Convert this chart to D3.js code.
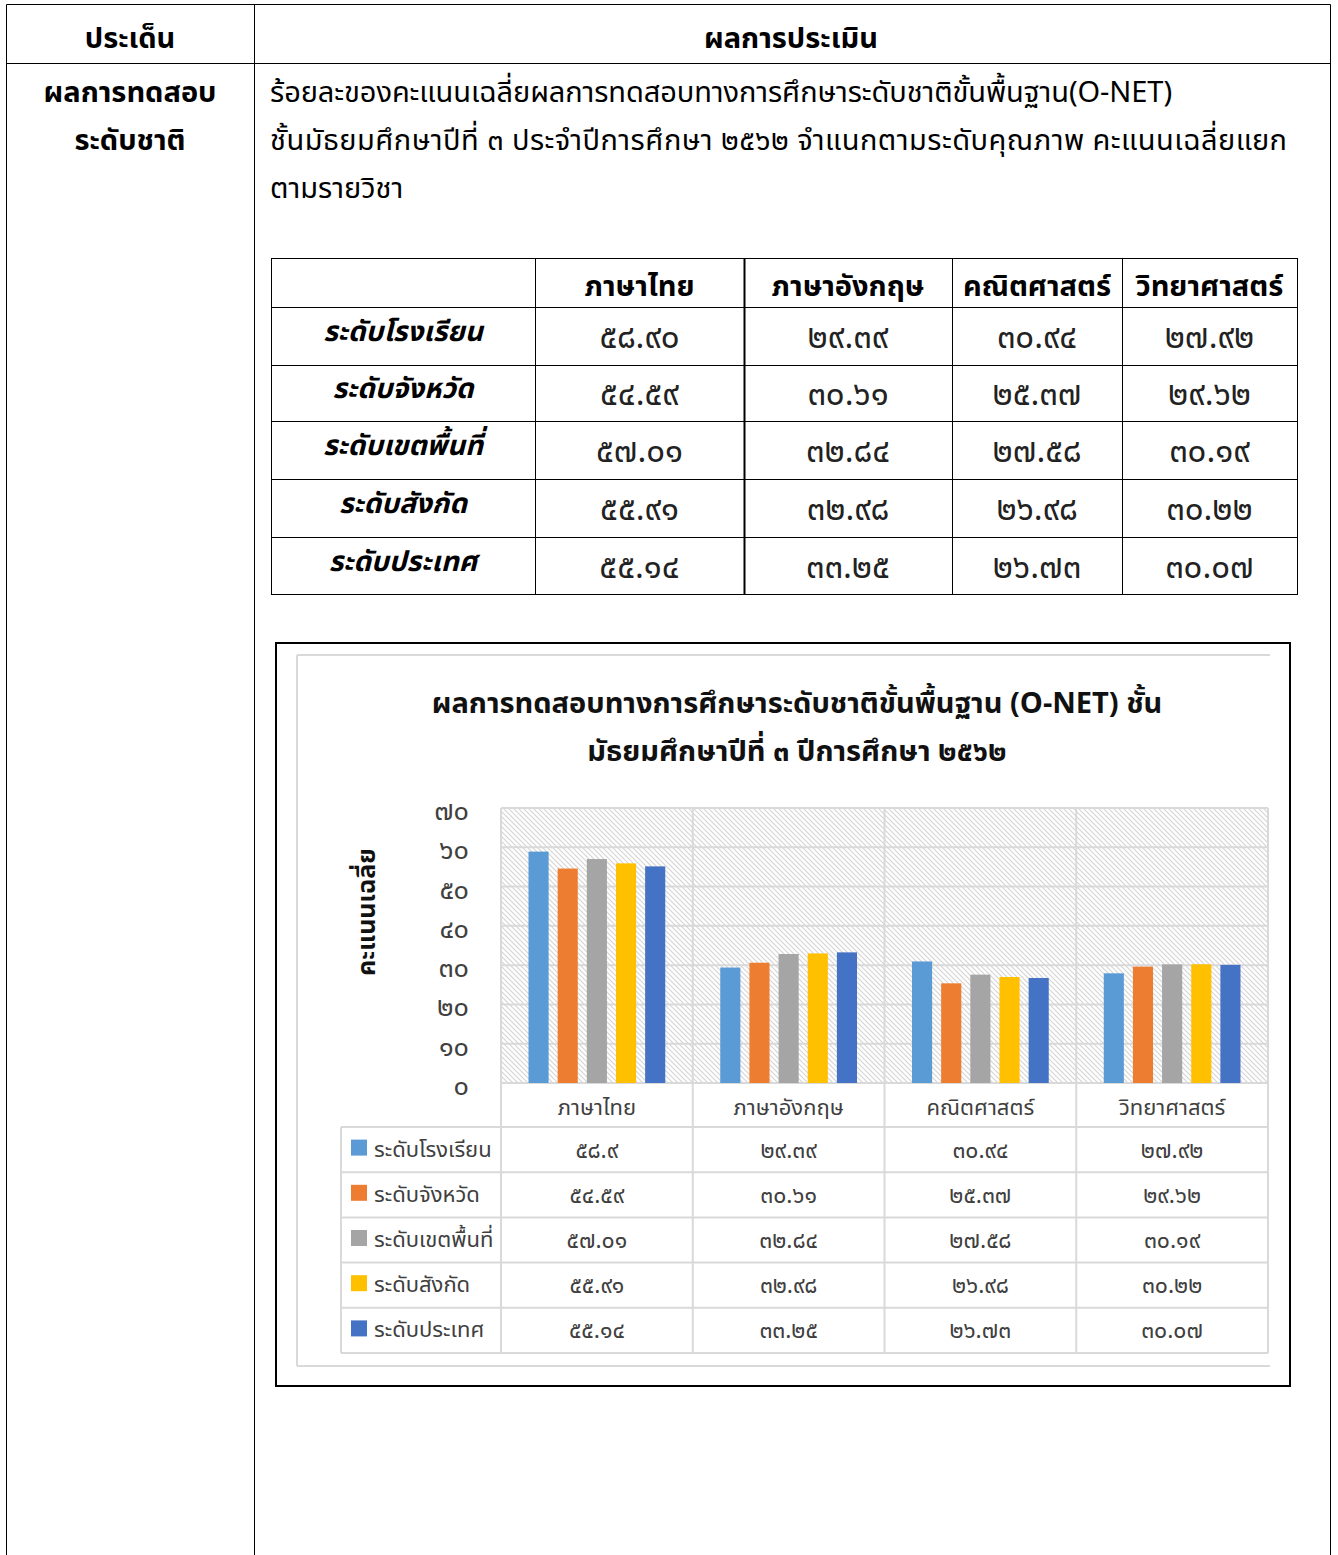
<!DOCTYPE html>
<html>
<head>
<meta charset="utf-8">
<script src="https://cdn.jsdelivr.net/npm/d3@7"></script>
<style>
  html, body { margin: 0; padding: 0; background: #fff; }
  svg { display: block; }
  text { font-family: "Noto Sans Thai", "Noto Sans", "Open Sans", sans-serif; }
</style>
</head>
<body>
<svg id="page" width="1338" height="1555"></svg>
<script>
// ---------- DATA ----------
const categories = ["ภาษาไทย", "ภาษาอังกฤษ", "คณิตศาสตร์", "วิทยาศาสตร์"];
const seriesNames = ["ระดับโรงเรียน", "ระดับจังหวัด", "ระดับเขตพื้นที่", "ระดับสังกัด", "ระดับประเทศ"];
const schoolValues      = [58.90, 29.39, 30.94, 27.92];
const provinceValues    = [54.59, 30.61, 25.37, 29.62];
const areaValues        = [57.01, 32.84, 27.58, 30.19];
const affiliationValues = [55.91, 32.98, 26.98, 30.22];
const countryValues     = [55.14, 33.25, 26.73, 30.07];
const seriesValues = [schoolValues, provinceValues, areaValues, affiliationValues, countryValues];
const seriesColors = ["#5B9BD5", "#ED7D31", "#A5A5A5", "#FFC000", "#4472C4"];
const yTicks = [0, 10, 20, 30, 40, 50, 60, 70];
const yTickLabels = ["๐", "๑๐", "๒๐", "๓๐", "๔๐", "๕๐", "๖๐", "๗๐"];

const headerLeft = "ประเด็น";
const headerRight = "ผลการประเมิน";
const leftLabelLines = ["ผลการทดสอบ", "ระดับชาติ"];
const paragraphLines = [
  "ร้อยละของคะแนนเฉลี่ยผลการทดสอบทางการศึกษาระดับชาติขั้นพื้นฐาน(O-NET)",
  "ชั้นมัธยมศึกษาปีที่ ๓ ประจำปีการศึกษา ๒๕๖๒ จำแนกตามระดับคุณภาพ คะแนนเฉลี่ยแยก",
  "ตามรายวิชา"
];
const paragraphWidths = [902, 1017, null];
const chartTitleLines = [
  "ผลการทดสอบทางการศึกษาระดับชาติขั้นพื้นฐาน  (O-NET) ชั้น",
  "มัธยมศึกษาปีที่ ๓ ปีการศึกษา ๒๕๖๒"
];
const yAxisTitle = "คะแนนเฉลี่ย";

// ---------- helpers ----------
const thaiDigits = "๐๑๒๓๔๕๖๗๘๙";
const toThai = s => String(s).replace(/[0-9]/g, d => thaiDigits[+d]);
const fmt2 = v => toThai(v.toFixed(2));
const fmtTrim = v => toThai(String(+v.toFixed(2)));

const svg = d3.select("#page");

// ---------- outer document table ----------
const outer = svg.append("g").attr("stroke", "#000").attr("stroke-width", 1);
outer.append("line").attr("x1", 6.5).attr("y1", 4.5).attr("x2", 1330.5).attr("y2", 4.5);
outer.append("line").attr("x1", 6.5).attr("y1", 63.5).attr("x2", 1330.5).attr("y2", 63.5);
outer.append("line").attr("x1", 6.5).attr("y1", 4.5).attr("x2", 6.5).attr("y2", 1560);
outer.append("line").attr("x1", 254.5).attr("y1", 4.5).attr("x2", 254.5).attr("y2", 1560);
outer.append("line").attr("x1", 1330.5).attr("y1", 4.5).attr("x2", 1330.5).attr("y2", 1560);

svg.append("text").attr("x", 130).attr("y", 48).attr("text-anchor", "middle")
  .attr("font-size", 29).attr("font-weight", "bold").text(headerLeft);
svg.append("text").attr("x", 791).attr("y", 48).attr("text-anchor", "middle")
  .attr("font-size", 29).attr("font-weight", "bold").text(headerRight);

leftLabelLines.forEach((t, i) => {
  svg.append("text").attr("x", 130).attr("y", 102 + i * 48).attr("text-anchor", "middle")
    .attr("font-size", 29).attr("font-weight", "bold").text(t);
});
paragraphLines.forEach((t, i) => {
  const tx = svg.append("text").attr("x", 270).attr("y", 102 + i * 48)
    .attr("font-size", 29).text(t);
  if (paragraphWidths[i]) tx.attr("textLength", paragraphWidths[i]).attr("lengthAdjust", "spacing");
});

// ---------- inner score table ----------
const colEdges = [271, 535, 744, 952, 1122, 1297];
const rowEdges = [258, 307, 365, 421, 479, 537, 594];
const tbl = svg.append("g");
rowEdges.forEach(yy => {
  tbl.append("line").attr("x1", colEdges[0]).attr("x2", colEdges[colEdges.length - 1])
    .attr("y1", yy + 0.5).attr("y2", yy + 0.5).attr("stroke", "#000").attr("stroke-width", 1);
});
colEdges.forEach((xx, i) => {
  tbl.append("line").attr("x1", xx + 0.5).attr("x2", xx + 0.5)
    .attr("y1", rowEdges[0]).attr("y2", rowEdges[rowEdges.length - 1] + 1)
    .attr("stroke", "#000").attr("stroke-width", i === 2 ? 2 : 1);
});
categories.forEach((c, j) => {
  tbl.append("text").attr("x", (colEdges[j + 1] + colEdges[j + 2]) / 2).attr("y", 296)
    .attr("text-anchor", "middle").attr("font-size", 29).attr("font-weight", "bold").text(c);
});
seriesNames.forEach((s, i) => {
  const cy = (rowEdges[i + 1] + rowEdges[i + 2]) / 2;
  tbl.append("text").attr("x", (colEdges[0] + colEdges[1]) / 2).attr("y", cy + 5)
    .attr("text-anchor", "middle").attr("font-size", 28).attr("font-weight", "bold")
    .attr("font-style", "italic").text(s);
  seriesValues[i].forEach((v, j) => {
    tbl.append("text").attr("x", (colEdges[j + 1] + colEdges[j + 2]) / 2).attr("y", cy + 12)
      .attr("text-anchor", "middle").attr("font-size", 33).attr("fill", "#222").text(fmt2(v));
  });
});

// ---------- chart box ----------
svg.append("rect").attr("x", 276).attr("y", 643).attr("width", 1014).attr("height", 743)
  .attr("fill", "#fff").attr("stroke", "#000").attr("stroke-width", 2);
const chartFrame = svg.append("g").attr("stroke", "#d9d9d9").attr("stroke-width", 2);
chartFrame.append("line").attr("x1", 297).attr("x2", 1270).attr("y1", 655).attr("y2", 655);
chartFrame.append("line").attr("x1", 297).attr("x2", 1270).attr("y1", 1366).attr("y2", 1366);
chartFrame.append("line").attr("x1", 297).attr("x2", 297).attr("y1", 655).attr("y2", 1366);

chartTitleLines.forEach((t, i) => {
  svg.append("text").attr("x", 797).attr("y", 713 + i * 48).attr("text-anchor", "middle")
    .attr("font-size", 29).attr("font-weight", "bold").attr("fill", "#111").text(t);
});

// hatch pattern
const defs = svg.append("defs");
const pat = defs.append("pattern").attr("id", "hatch").attr("patternUnits", "userSpaceOnUse")
  .attr("width", 5).attr("height", 5);
pat.append("rect").attr("width", 5).attr("height", 5).attr("fill", "#fff");
pat.append("path").attr("d", "M0,0 L5,5 M-1,4 L1,6 M4,-1 L6,1")
  .attr("stroke", "#d4d4d4").attr("stroke-width", 1.1);

const plotLeft = 501, plotRight = 1268, plotTop = 808, plotBottom = 1083;
const x0 = d3.scaleBand().domain(categories).range([plotLeft, plotRight]).padding(0);
const groupPad = 27.5;
const x1 = d3.scaleBand().domain(seriesNames)
  .range([groupPad, x0.bandwidth() - groupPad]).paddingInner(0.31).paddingOuter(0);
const y = d3.scaleLinear().domain([0, 70]).range([plotBottom, plotTop]);

svg.append("rect").attr("x", plotLeft).attr("y", plotTop)
  .attr("width", plotRight - plotLeft).attr("height", plotBottom - plotTop)
  .attr("fill", "url(#hatch)");

// gridlines
svg.append("g").selectAll("line").data(yTicks).join("line")
  .attr("x1", plotLeft).attr("x2", plotRight)
  .attr("y1", d => y(d)).attr("y2", d => y(d))
  .attr("stroke", "#d9d9d9").attr("stroke-width", 2);

// data table geometry
const tableRowTop = 1127, rowH = 45.2;
const tableBottom = tableRowTop + rowH * seriesNames.length;
const legendLeft = 341;

// vertical column lines (through plot and data table)
const vEdges = categories.map(c => x0(c)).concat([plotRight]);
svg.append("g").selectAll("line").data(vEdges).join("line")
  .attr("x1", d => d).attr("x2", d => d)
  .attr("y1", plotTop).attr("y2", tableBottom)
  .attr("stroke", "#d9d9d9").attr("stroke-width", 2);
// horizontal table lines
d3.range(seriesNames.length + 1).forEach(i => {
  svg.append("line").attr("x1", legendLeft).attr("x2", plotRight)
    .attr("y1", tableRowTop + i * rowH).attr("y2", tableRowTop + i * rowH)
    .attr("stroke", "#d9d9d9").attr("stroke-width", 2);
});
svg.append("line").attr("x1", legendLeft).attr("x2", legendLeft)
  .attr("y1", tableRowTop).attr("y2", tableBottom)
  .attr("stroke", "#d9d9d9").attr("stroke-width", 2);

// bars
const groups = svg.append("g").selectAll("g").data(categories).join("g")
  .attr("transform", c => `translate(${x0(c)},0)`);
groups.selectAll("rect").data((c, j) => seriesNames.map((s, i) => ({ s, i, v: seriesValues[i][j] })))
  .join("rect")
  .attr("x", d => x1(d.s)).attr("width", x1.bandwidth())
  .attr("y", d => y(d.v)).attr("height", d => y(0) - y(d.v))
  .attr("fill", d => seriesColors[d.i]);

// y tick labels
svg.append("g").selectAll("text").data(yTicks).join("text")
  .attr("x", 469).attr("y", d => y(d) + 12)
  .attr("text-anchor", "end").attr("font-size", 27).attr("fill", "#404040")
  .text((d, i) => yTickLabels[i]);

// y axis title
svg.append("text").attr("transform", "translate(375,912) rotate(-90)")
  .attr("text-anchor", "middle").attr("font-size", 25).attr("font-weight", "bold")
  .attr("fill", "#111").text(yAxisTitle);

// category labels
svg.append("g").selectAll("text").data(categories).join("text")
  .attr("x", c => x0(c) + x0.bandwidth() / 2).attr("y", 1115)
  .attr("text-anchor", "middle").attr("font-size", 22).attr("fill", "#404040").text(c => c);

// legend + values rows
seriesNames.forEach((s, i) => {
  const cy = tableRowTop + rowH * i + rowH / 2;
  svg.append("rect").attr("x", 351).attr("y", cy - 10).attr("width", 16).attr("height", 16)
    .attr("fill", seriesColors[i]);
  svg.append("text").attr("x", 374).attr("y", cy + 7).attr("font-size", 22)
    .attr("fill", "#404040").text(s);
  categories.forEach((c, j) => {
    svg.append("text").attr("x", x0(c) + x0.bandwidth() / 2).attr("y", cy + 8)
      .attr("text-anchor", "middle").attr("font-size", 23).attr("fill", "#404040")
      .text(fmtTrim(seriesValues[i][j]));
  });
});
</script>
</body>
</html>
